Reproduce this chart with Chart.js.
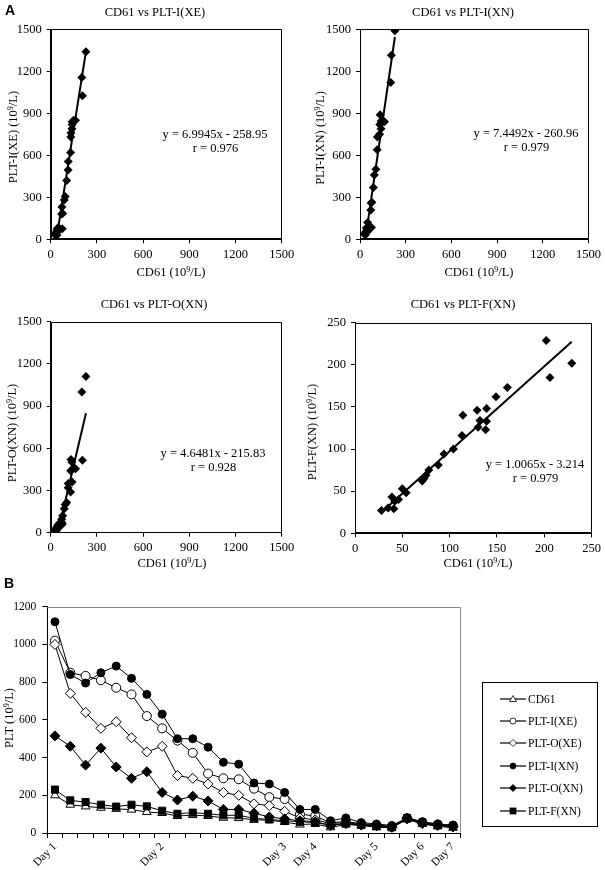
<!DOCTYPE html>
<html>
<head>
<meta charset="utf-8">
<script src="https://cdn.jsdelivr.net/npm/chart.js@4"></script>
<style>
  body { margin: 0; background: #fff; }
  #page { position: relative; width: 605px; height: 870px; overflow: hidden; font-family: 'Liberation Serif', serif; color: #000; }
  canvas { position: absolute; }
  .lbl { position: absolute; white-space: nowrap; font-size: 12.5px; line-height: 1; }
  .lbl sup { font-size: 8px; vertical-align: 4px; line-height: 0; }
  .tag { position: absolute; font-family: 'Liberation Sans', Arial, sans-serif; font-weight: bold; font-size: 14px; }
  #legend { position: absolute; left: 482px; top: 682px; width: 114px; height: 143px; border: 1px solid #000; }
  .row { position: absolute; left: 17px; height: 12px; display: flex; align-items: center; font-size: 11.5px; }
  .row svg { margin-right: 2px; }
</style>
</head>
<body>
<div id="page">
  <canvas id="p1" width="300" height="290" style="left:0;top:0"></canvas>
  <canvas id="p2" width="305" height="290" style="left:300px;top:0"></canvas>
  <canvas id="p3" width="300" height="290" style="left:0;top:290px"></canvas>
  <canvas id="p4" width="305" height="290" style="left:300px;top:290px"></canvas>
  <canvas id="trend" width="605" height="280" style="left:0;top:590px"></canvas>
  <div class="tag" style="left:5px;top:2px">A</div>
  <div class="tag" style="left:4px;top:575px">B</div>
  <div id="legend"></div>
</div>
<script>
// Panel A: paired samples, CD61 against each analyser channel
const cd61 = [28, 35, 39, 41, 42, 46, 50, 54, 71, 73, 75, 78, 88, 94, 104, 113, 114, 129, 130, 132, 138, 139, 139, 149, 161, 202, 206, 229];
const pltIXE = [40, 25, 60, 30, 75, 55, 85, 70, 180, 230, 75, 185, 280, 305, 420, 495, 555, 620, 730, 760, 790, 820, 840, 850, 850, 1155, 1025, 1340];
const pltIXN = [40, 30, 55, 60, 80, 50, 120, 65, 210, 260, 85, 265, 370, 460, 500, 640, 730, 750, 820, 890, 790, 845, 830, 840, 840, 1120, 1315, 1490];
const pltOXN = [20, 15, 35, 25, 45, 30, 60, 50, 95, 70, 60, 120, 170, 200, 215, 320, 350, 290, 440, 520, 500, 360, 450, 460, 455, 1000, 515, 1110];
const pltFXN = [27, 30, 43, 29, 38, 40, 53, 48, 62, 65, 69, 75, 81, 94, 100, 116, 140, 146, 126, 134, 123, 148, 133, 162, 173, 229, 185, 202];

const panelNames = ['PLT-I(XE)', 'PLT-I(XN)', 'PLT-O(XN)', 'PLT-F(XN)'];
const fitSlope = [6.9945, 7.4492, 4.6481, 1.0065];
const fitIntercept = [-258.95, -260.96, -215.83, -3.214];
const fitR = [0.976, 0.979, 0.928, 0.979];

// Panel B: daily trend
const dayLabels = ['Day 1', '', '', '', '', '', '', 'Day 2', '', '', '', '', '', '', '', 'Day 3', '', 'Day 4', '', '', '', 'Day 5', '', '', 'Day 6', '', 'Day 7'];
const cd61Trend = [200, 150, 141, 134, 128, 124, 111, 106, 90, 95, 90, 81, 79, 70, 68, 58, 45, 48, 30, 45, 40, 30, 28, 72, 48, 35, 28];
const pltIXETrend = [1020, 850, 833, 810, 770, 735, 620, 555, 490, 425, 315, 290, 285, 235, 190, 180, 100, 90, 55, 60, 50, 42, 35, 78, 55, 45, 38];
const pltOXETrend = [1000, 740, 640, 555, 590, 505, 430, 460, 305, 290, 260, 215, 200, 155, 145, 115, 80, 70, 50, 55, 45, 40, 32, 75, 52, 42, 35];
const pltIXNTrend = [1120, 840, 795, 850, 885, 820, 735, 630, 500, 500, 455, 375, 365, 265, 260, 215, 125, 125, 65, 80, 55, 48, 40, 80, 60, 48, 42];
const pltOXNTrend = [515, 460, 360, 450, 350, 290, 325, 215, 175, 195, 170, 125, 125, 105, 85, 75, 65, 60, 40, 50, 42, 38, 30, 78, 50, 40, 32];
const pltFXNTrend = [230, 173, 164, 150, 140, 150, 141, 118, 102, 108, 102, 94, 94, 78, 72, 65, 60, 55, 42, 50, 42, 38, 30, 80, 55, 42, 35];

Chart.defaults.font.family = "'Liberation Serif', 'Times New Roman', serif";
Chart.defaults.color = '#000';

const page = document.getElementById('page');
const plain = v => String(v);   // no thousands separator

// absolutely placed text, centred on (cx, cy)
function label(html, cx, cy, rotate) {
    const d = document.createElement('div');
    d.className = 'lbl';
    d.innerHTML = html;
    d.style.left = cx + 'px';
    d.style.top = cy + 'px';
    d.style.transform = 'translate(-50%, -50%)' + (rotate ? ' rotate(-90deg)' : '');
    page.appendChild(d);
}

// box round the plot area
const frame = {
    id: 'frame',
    afterDraw(chart, args, opts) {
        const a = chart.chartArea;
        const ctx = chart.ctx;
        const l = Math.round(a.left) + 0.5, t = Math.round(a.top) + 0.5;
        const r = Math.round(a.right) - 0.5, b = Math.round(a.bottom) - 0.5;
        ctx.save();
        ctx.strokeStyle = opts.color;
        ctx.lineWidth = 1;
        ctx.beginPath();
        if (opts.all) {
            ctx.moveTo(l, b); ctx.lineTo(l, t); ctx.lineTo(r, t); ctx.lineTo(r, b); ctx.lineTo(l, b);
        } else {
            ctx.moveTo(l, t); ctx.lineTo(r, t); ctx.lineTo(r, b);
        }
        ctx.stroke();
        ctx.restore();
    }
};

const unit = ' (10<sup>9</sup>/L)';

function scatterPanel(i, canvasId, ys, axisMax, step, box) {
    const pts = cd61.map((x, k) => ({ x: x, y: ys[k] }));
    const x0 = Math.min(...cd61), x1 = Math.max(...cd61);
    const fitLine = [x0, x1].map(x => ({ x: x, y: fitSlope[i] * x + fitIntercept[i] }));
    const tickFont = { size: 12.5 };
    new Chart(document.getElementById(canvasId), {
        type: 'scatter',
        data: {
            datasets: [{
                data: pts,
                pointStyle: 'rectRot',
                pointRadius: 4.5,
                backgroundColor: '#000',
                borderColor: '#000',
                borderWidth: 0
            }, {
                type: 'line',
                data: fitLine,
                borderColor: '#000',
                borderWidth: 2,
                pointRadius: 0
            }]
        },
        options: {
            responsive: false,
            animation: false,
            layout: { padding: { top: box.top, right: box.right, left: 0, bottom: 0 } },
            plugins: { legend: { display: false }, tooltip: { enabled: false }, frame: { color: '#000', all: true } },
            scales: {
                x: {
                    type: 'linear', min: 0, max: axisMax,
                    ticks: { stepSize: step, font: tickFont, padding: 4, callback: plain },
                    grid: { drawOnChartArea: false, tickLength: 4, color: '#000' },
                    border: { color: '#000' },
                    afterFit: s => { s.height = box.xh; }
                },
                y: {
                    type: 'linear', min: 0, max: axisMax,
                    ticks: { stepSize: step, font: tickFont, padding: 5, callback: plain },
                    grid: { drawOnChartArea: false, tickLength: 4, color: '#000' },
                    border: { color: '#000' },
                    afterFit: s => { s.width = box.yw; }
                }
            }
        },
        plugins: [frame]
    });
}

scatterPanel(0, 'p1', pltIXE, 1500, 300, { top: 29.3, right: 18.3, xh: 50.7, yw: 50.7 });
scatterPanel(1, 'p2', pltIXN, 1500, 300, { top: 29.3, right: 15.7, xh: 50.7, yw: 60 });
scatterPanel(2, 'p3', pltOXN, 1500, 300, { top: 31.7, right: 18.3, xh: 47.3, yw: 50.7 });
scatterPanel(3, 'p4', pltFXN, 250, 50, { top: 32.7, right: 10, xh: 46.7, yw: 55 });

// panel text: titles, axis titles, fit equations
const titlePos = [[155, 12], [463, 12], [154, 304], [463, 304]];
const yTitlePos = [[12.5, 137], [320, 138], [12, 433], [312, 432]];
const xTitlePos = [[171, 272], [479, 272], [172, 563], [478, 563]];
const eqPos = [[215, 134], [526, 133], [213, 453], [535, 464]];
panelNames.forEach((name, i) => {
    label('CD61 vs ' + name, titlePos[i][0], titlePos[i][1]);
    label(name + unit, yTitlePos[i][0], yTitlePos[i][1], true);
    label('CD61' + unit, xTitlePos[i][0], xTitlePos[i][1]);
    const b = fitIntercept[i];
    label('y = ' + fitSlope[i] + 'x - ' + Math.abs(b), eqPos[i][0], eqPos[i][1]);
    label('r = ' + fitR[i].toFixed(3), eqPos[i][0] + 0.5, eqPos[i][1] + 14);
});

// Panel B
const series = [
    { label: 'CD61', data: cd61Trend, style: 'triangle', r: 5, fill: '#fff' },
    { label: 'PLT-I(XE)', data: pltIXETrend, style: 'circle', r: 4.5, fill: '#fff' },
    { label: 'PLT-O(XE)', data: pltOXETrend, style: 'rectRot', r: 5, fill: '#fff' },
    { label: 'PLT-I(XN)', data: pltIXNTrend, style: 'circle', r: 4, fill: '#000' },
    { label: 'PLT-O(XN)', data: pltOXNTrend, style: 'rectRot', r: 5, fill: '#000' },
    { label: 'PLT-F(XN)', data: pltFXNTrend, style: 'rect', r: 5, fill: '#000' }
];

new Chart(document.getElementById('trend'), {
    type: 'line',
    data: {
        labels: dayLabels,
        datasets: series.map((s, k) => ({
            label: s.label,
            data: s.data,
            borderColor: '#000',
            borderWidth: 1,
            pointStyle: s.style,
            pointRadius: s.r,
            pointBackgroundColor: s.fill,
            pointBorderColor: '#000',
            pointBorderWidth: 1,
            order: series.length - k
        }))
    },
    options: {
        responsive: false,
        animation: false,
        layout: { padding: { top: 16.7, right: 144.3, left: 0, bottom: 0 } },
        plugins: { legend: { display: false }, tooltip: { enabled: false }, frame: { color: '#888', all: false } },
        scales: {
            x: {
                type: 'category',
                offset: true,
                ticks: { autoSkip: false, minRotation: 45, maxRotation: 45, font: { size: 11.5 }, padding: 2 },
                grid: { offset: true, drawOnChartArea: false, tickLength: 5, color: '#000' },
                border: { color: '#000' },
                afterFit: s => { s.height = 37; }
            },
            y: {
                min: 0, max: 1200,
                ticks: { stepSize: 200, font: { size: 11.5 }, padding: 6, callback: plain },
                grid: { drawOnChartArea: false, tickLength: 5, color: '#000' },
                border: { color: '#000' },
                afterFit: s => { s.width = 47.3; }
            }
        }
    },
    plugins: [frame]
});

label('PLT' + unit, 9, 718, true);

// legend for panel B
const legend = document.getElementById('legend');
function icon(s) {
    const c = 13, m = 5;
    let mark = '';
    const st = 'stroke="#000" stroke-width="0.8" fill="' + s.fill + '"';
    if (s.style === 'circle') mark = '<circle cx="' + c + '" cy="' + m + '" r="3" ' + st + '/>';
    if (s.style === 'triangle') mark = '<polygon points="13,1.5 16.5,7.5 9.5,7.5" ' + st + '/>';
    if (s.style === 'rectRot') mark = '<polygon points="13,1.5 16.5,5 13,8.5 9.5,5" ' + st + '/>';
    if (s.style === 'rect') mark = '<rect x="10" y="2" width="6" height="6" ' + st + '/>';
    return '<svg width="26" height="10"><line x1="0" y1="5" x2="26" y2="5" stroke="#000" stroke-width="1.2"/>' + mark + '</svg>';
}
series.forEach((s, k) => {
    const row = document.createElement('div');
    row.className = 'row';
    row.style.top = (9.5 + k * 22.4) + 'px';
    row.innerHTML = icon(s) + '<span>' + s.label + '</span>';
    legend.appendChild(row);
});
</script>
</body>
</html>
